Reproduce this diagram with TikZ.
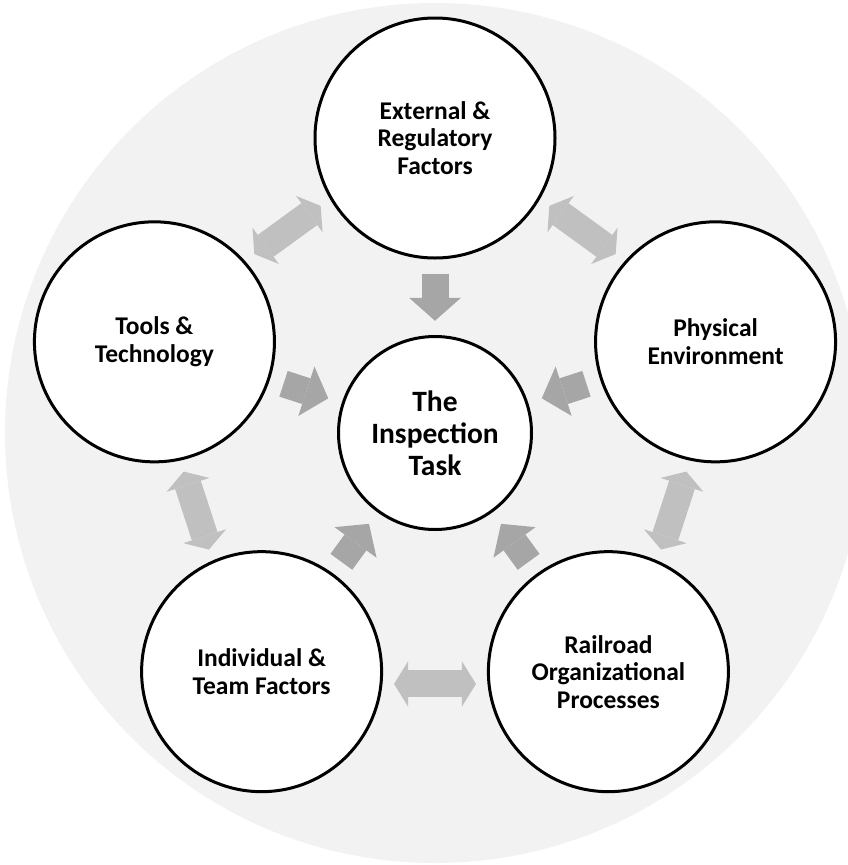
\documentclass[tikz,border=0pt]{standalone}
\usepackage{fontspec}
\setmainfont{Carlito}
\usetikzlibrary{calc,arrows.meta}
\definecolor{bgray}{HTML}{F2F2F2}
\definecolor{sarrow}{HTML}{A6A6A6}
\definecolor{darrow}{HTML}{C0C0C0}
\tikzset{
  outer/.style={circle,draw=black,line width=3pt,fill=white,minimum size=240pt,inner sep=0pt,align=center,
    font=\bfseries\fontsize{25.5}{27.5}\selectfont},
  inner/.style={circle,draw=black,line width=3pt,fill=white,minimum size=193pt,inner sep=0pt,align=center,
    font=\bfseries\fontsize{29.5}{32}\selectfont},
  singlearrow/.style={draw=sarrow,line width=27pt,line cap=butt,
    -{Triangle[length=23pt,width=52pt,line width=0pt]}},
  doublearrow/.style={draw=darrow,line width=27pt,line cap=butt,
    {Triangle[length=14pt,width=45pt,line width=0pt]}-{Triangle[length=14pt,width=45pt,line width=0pt]}}
}
\begin{document}
\begin{tikzpicture}[x=1pt,y=-1pt]
\useasboundingbox (0,0) rectangle (847,865);
\coordinate (c) at (435,433);
\fill[bgray] (c) circle (430pt);
\node[inner] (task) at (c) {The\\Inspection\\Task};
\node[outer] (ext)  at ($(c)+(90:295pt)$)  {External \&\\Regulatory\\Factors};
\node[outer] (tools) at ($(c)+(162:295pt)$) {Tools \&\\Technology};
\node[outer] (ind)  at ($(c)+(234:295pt)$) {Individual \&\\Team Factors};
\node[outer] (rail) at ($(c)+(306:295pt)$) {Railroad\\Organizational\\Processes};
\node[outer] (phys) at ($(c)+(18:295pt)$)  {Physical\\Environment};
% single arrows towards the task
\foreach \a in {ext,tools,ind,rail,phys}{
  \draw[singlearrow] ($(\a)!135.75pt!(task)$) -- ($(\a)!182.75pt!(task)$);
}
% double arrows between neighbours
\foreach \a/\b in {ext/tools,tools/ind,ind/rail,rail/phys,phys/ext}{
  \coordinate (m) at ($(\a)!0.5!(\b)$);
  \coordinate (o) at ($(task)!1.0515!(m)$);
  \draw[doublearrow] ($(o)+0.2364*(\a)-0.2364*(m)$) -- ($(o)+0.2364*(\b)-0.2364*(m)$);
}
\end{tikzpicture}
\end{document}
